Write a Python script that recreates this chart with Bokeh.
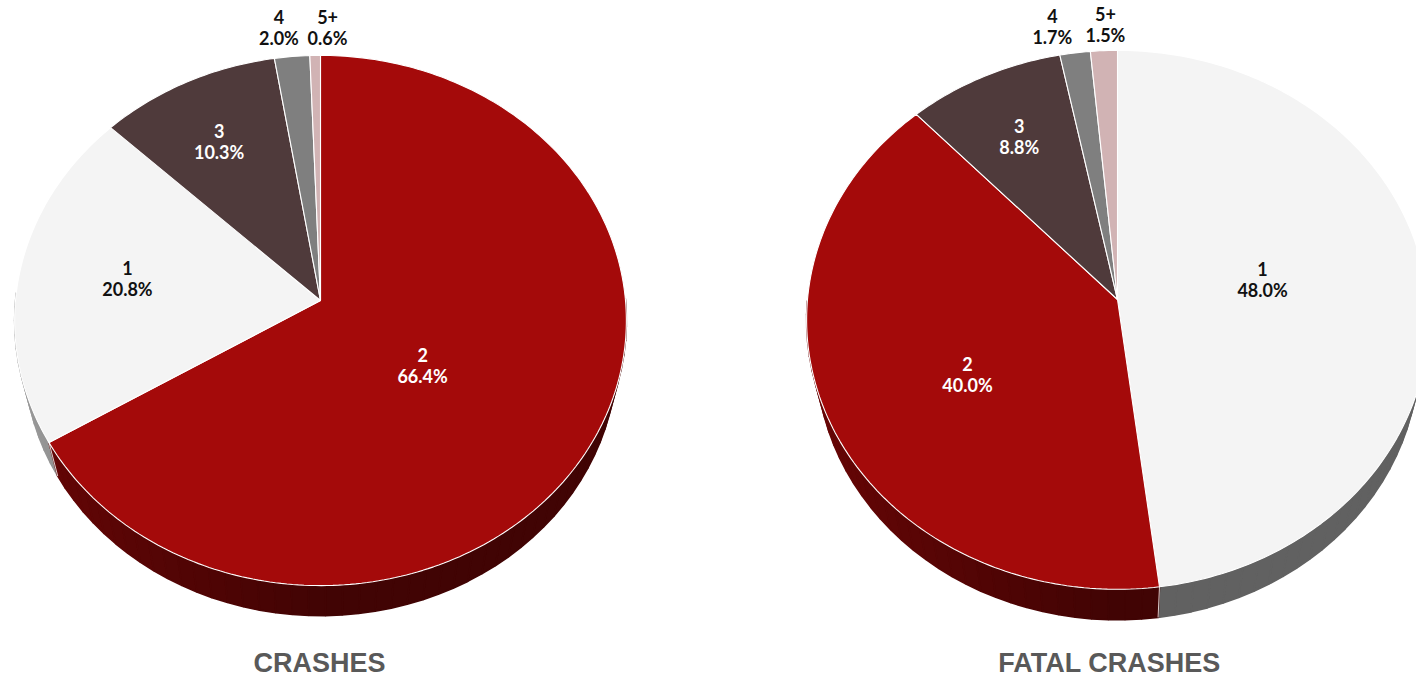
import numpy as np
from bokeh.plotting import figure
from bokeh.models import Range1d, ColumnDataSource
from bokeh.embed import file_html
from bokeh.resources import INLINE
from bokeh.core.properties import value

# ---------------- data ----------------
crash_categories = ["2", "1", "3", "4", "5+"]
crash_shares = [66.4, 20.8, 10.3, 2.0, 0.6]
fatal_categories = ["1", "2", "3", "4", "5+"]
fatal_shares = [48.0, 40.0, 8.8, 1.7, 1.5]
chart_titles = ["CRASHES", "FATAL CRASHES"]

# ---------------- style ----------------
COLORS = {"1": "#F4F4F4", "2": "#A40A0A", "3": "#4F3A3B", "4": "#7F7F7F", "5+": "#D1B3B4"}
DARK_LABEL = {"2", "3"}
W, H = 1416, 680

ELEV = np.radians(59.8)
S, C = np.sin(ELEV), np.cos(ELEV)
DIST = 6.67
THICK = 0.247

# pie layout: centre x, centre y, scale, title x
PIES = [
    dict(cats=crash_categories, vals=crash_shares, cx=320, cy=300, scale=305, title_x=319,
         labels=[(0.47, -25, 3), (0.64, 0, -4), (0.70, -6, -3), (1.12, -10, -2), (1.12, 13, -1)]),
    dict(cats=fatal_categories, vals=fatal_shares, cx=1117, cy=299, scale=310, title_x=1109,
         labels=[(0.47, 0, -12), (0.55, 7, 11), (0.70, -3, -4), (1.12, -18, 1), (1.12, 3, 1)]),
]


def project(pie, X, Y, Z=0.0):
    f = pie["scale"] * DIST
    depth = DIST + Y * C - Z * S
    sx = pie["cx"] + f * X / depth
    sy = pie["cy"] - f * (Y * S + Z * C) / depth
    return sx, sy


def shade(hexcol, k):
    h = hexcol.lstrip("#")
    r, g, b = (int(h[i:i + 2], 16) for i in (0, 2, 4))
    return "#%02x%02x%02x" % (int(r * k), int(g * k), int(b * k))


p = figure(width=W, height=H, x_range=Range1d(0, W), y_range=Range1d(H, 0),
           output_backend="svg", toolbar_location=None, min_border=0,
           x_axis_type=None, y_axis_type=None, background_fill_color="white",
           border_fill_color="white", outline_line_color=None)
p.grid.visible = False

for pie in PIES:
    vals = np.array(pie["vals"], dtype=float)
    frac = vals / vals.sum()
    ends = np.cumsum(frac) * 2 * np.pi
    starts = ends - frac * 2 * np.pi

    # ---- side walls ----
    wall_xs, wall_ys, wall_cols, wall_depth = [], [], [], []
    for cat, a0, a1 in zip(pie["cats"], starts, ends):
        n = max(2, int(np.degrees(a1 - a0) / 3) + 2)
        ts = np.linspace(a0, a1, n)
        for t0, t1 in zip(ts[:-1], ts[1:]):
            tm = 0.5 * (t0 + t1)
            if np.cos(tm) > 0.02:
                continue
            pts = [project(pie, np.sin(t0), np.cos(t0)), project(pie, np.sin(t1), np.cos(t1)),
                   project(pie, np.sin(t1), np.cos(t1), -THICK), project(pie, np.sin(t0), np.cos(t0), -THICK)]
            k = 0.40 + 0.24 * max(0.0, -np.sin(tm))
            wall_xs.append([q[0] for q in pts])
            wall_ys.append([q[1] for q in pts])
            wall_cols.append(shade(COLORS[cat], k))
            wall_depth.append(np.cos(tm))
    order = np.argsort(wall_depth)[::-1]
    p.patches(xs=[wall_xs[i] for i in order], ys=[wall_ys[i] for i in order],
              fill_color=[wall_cols[i] for i in order], line_color=[wall_cols[i] for i in order],
              line_width=1.6)

    # slice boundaries on the wall
    for a in starts:
        if np.cos(a) < 0:
            x0, y0 = project(pie, np.sin(a), np.cos(a))
            x1, y1 = project(pie, np.sin(a), np.cos(a), -THICK)
            p.line([x0, x1], [y0, y1], line_color="white", line_width=1, line_alpha=0.8)

    # ---- top faces ----
    top_xs, top_ys, top_cols = [], [], []
    for cat, a0, a1 in zip(pie["cats"], starts, ends):
        n = max(3, int(np.degrees(a1 - a0)) + 2)
        ts = np.linspace(a0, a1, n)
        ox, oy = project(pie, 0.0, 0.0)
        xs, ys = [ox], [oy]
        for t in ts:
            x, y = project(pie, np.sin(t), np.cos(t))
            xs.append(x)
            ys.append(y)
        top_xs.append(xs)
        top_ys.append(ys)
        top_cols.append(COLORS[cat])
    p.patches(xs=top_xs, ys=top_ys, fill_color=top_cols, line_color="white", line_width=1.1)

    # ---- labels ----
    lx, ly1, ly2, l1, l2, lc = [], [], [], [], [], []
    for (cat, v, a0, a1, (r, dx, dy)) in zip(pie["cats"], pie["vals"], starts, ends, pie["labels"]):
        tm = 0.5 * (a0 + a1)
        x, y = project(pie, r * np.sin(tm), r * np.cos(tm))
        x += dx
        y += dy
        lx.append(x)
        ly1.append(y - 10.5)
        ly2.append(y + 10.5)
        l1.append(cat)
        l2.append(f"{v:.1f}%")
        lc.append("white" if (cat in DARK_LABEL and r < 1) else "#111111")
    src = ColumnDataSource(dict(x=lx, y1=ly1, y2=ly2, t1=l1, t2=l2, c=lc))
    for ycol, tcol in (("y1", "t1"), ("y2", "t2")):
        p.text(x="x", y=ycol, text=tcol, source=src, text_color="c",
               text_font=value("Lato"), text_font_style="bold", text_font_size="18px",
               text_align="center", text_baseline="middle")

for pie, title in zip(PIES, chart_titles):
    p.text(x=[pie["title_x"]], y=[662], text=[title], text_color="#595959",
           text_font=value("Liberation Sans"), text_font_style="bold", text_font_size="27px",
           text_align="center", text_baseline="middle")

open("out.html", "w").write(file_html(p, INLINE))
